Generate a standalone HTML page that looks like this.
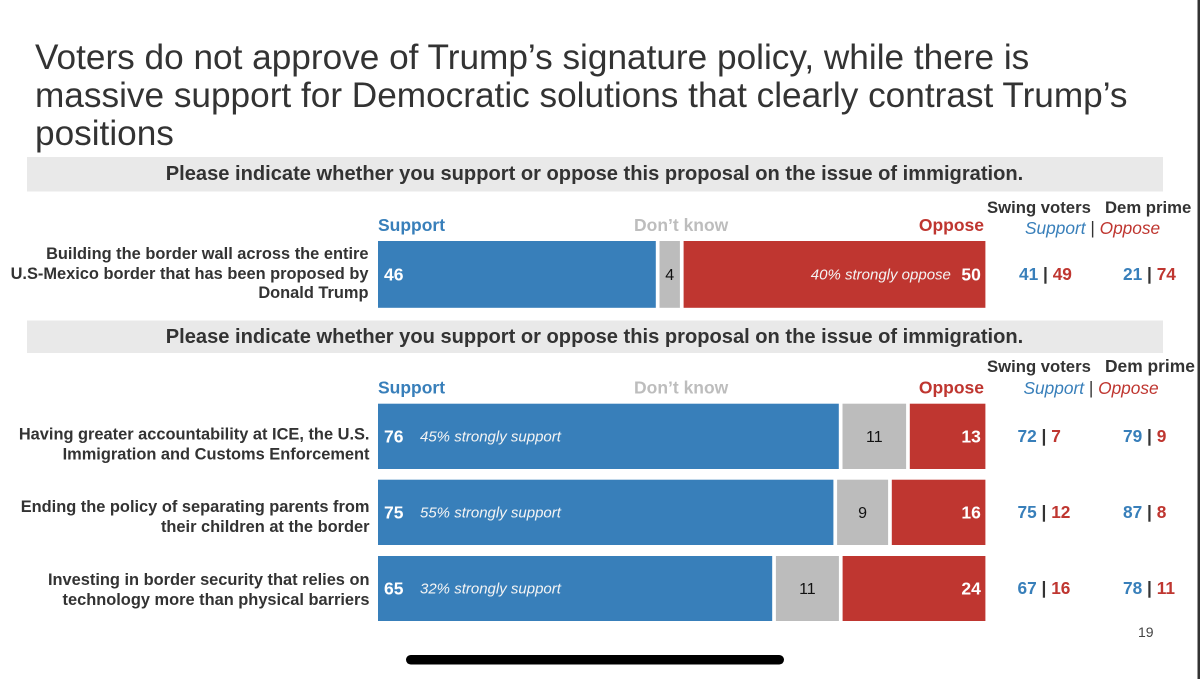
<!DOCTYPE html>
<html lang="en">
<head>
<meta charset="utf-8">
<title>Voters and immigration policy</title>
<style>
html,body{margin:0;padding:0;background:#fff;width:1200px;height:679px;overflow:hidden}
svg{display:block;font-family:"Liberation Sans",Arial,sans-serif}
.title{font-size:35.2px;fill:#333}
.q{font-size:20.1px;font-weight:700;fill:#333;text-anchor:middle}
.rl{font-size:16.4px;font-weight:700;fill:#333;text-anchor:end}
.hd{font-weight:700;font-size:17.5px}
.col{font-weight:700;font-size:16.7px;fill:#333}
.sub{font-style:italic;font-size:17.3px}
.blue{fill:#387fba}.red{fill:#bf3630}.grey{fill:#bdbdbd}.dark{fill:#333}
</style>
</head>
<body>
<svg id="chart" xmlns="http://www.w3.org/2000/svg" width="1200" height="679" viewBox="0 0 1200 679">
  <rect x="0" y="0" width="1200" height="679" fill="#ffffff"/>
  <g>
    <text class="title" x="35" y="69">Voters do not approve of Trump’s signature policy, while there is</text>
    <text class="title" x="35" y="107">massive support for Democratic solutions that clearly contrast Trump’s</text>
    <text class="title" x="35" y="145">positions</text>
  </g>
  <rect x="27" y="157" width="1136" height="34.5" fill="#e9e9e9"/>
  <text class="q" x="594.5" y="180">Please indicate whether you support or oppose this proposal on the issue of immigration.</text>
  <rect x="27" y="320.5" width="1136" height="32.5" fill="#e9e9e9"/>
  <text class="q" x="594.5" y="343">Please indicate whether you support or oppose this proposal on the issue of immigration.</text>

  <text class="hd blue" x="378" y="231">Support</text>
  <text class="hd grey" x="634" y="231">Don’t know</text>
  <text class="hd red" x="984" y="231" text-anchor="end">Oppose</text>
  <text class="hd blue" x="378" y="393.500">Support</text>
  <text class="hd grey" x="634" y="393.500">Don’t know</text>
  <text class="hd red" x="984" y="393.500" text-anchor="end">Oppose</text>

  <text class="col" x="987" y="213">Swing voters</text>
  <text class="col" x="1105" y="213">Dem prime</text>
  <text class="sub" x="1025" y="234"><tspan class="blue">Support</tspan><tspan class="dark" font-style="normal"> | </tspan><tspan class="red">Oppose</tspan></text>
  <text class="col" x="987" y="372">Swing voters</text>
  <text class="col" x="1105" y="372" style="font-size:17.4px">Dem prime</text>
  <text class="sub" x="1023.500" y="394"><tspan class="blue">Support</tspan><tspan class="dark" font-style="normal"> | </tspan><tspan class="red">Oppose</tspan></text>

  <g>
    <text class="rl" x="368.500" y="259">Building the border wall across the entire</text>
    <text class="rl" x="368.500" y="279">U.S-Mexico border that has been proposed by</text>
    <text class="rl" x="368.500" y="298">Donald Trump</text>
  </g>
  <g>
    <text class="rl" x="369.500" y="439.500">Having greater accountability at ICE, the U.S.</text>
    <text class="rl" x="369.500" y="459.500">Immigration and Customs Enforcement</text>
  </g>
  <g>
    <text class="rl" x="369.500" y="512">Ending the policy of separating parents from</text>
    <text class="rl" x="369.500" y="532">their children at the border</text>
  </g>
  <g>
    <text class="rl" x="369.500" y="585">Investing in border security that relies on</text>
    <text class="rl" x="369.500" y="605">technology more than physical barriers</text>
  </g>

  <g id="bars"></g>
  <g id="side"></g>

  <text x="1138" y="637" font-size="14" fill="#444">19</text>
  <rect x="406" y="655" width="378" height="9.500" rx="4.750" fill="#000"/>
  <rect x="1197.500" y="0" width="2.500" height="679" fill="#333"/>
</svg>
<script>
// Bar lengths, in percent of the full bar.
const rowNames = ['border-wall', 'ice-accountability', 'family-separation', 'border-technology'];
const supportValues = [46.3, 76.8, 75.9, 65.7];
const dontKnowValues = [3.4, 10.6, 8.5, 10.5];
const opposeValues = [50.3, 12.6, 15.6, 23.8];
// Values as printed on the slide.
const supportLabels = ['46', '76', '75', '65'];
const dontKnowLabels = ['4', '11', '9', '11'];
const opposeLabels = ['50', '13', '16', '24'];
const strongNotes = ['', '45% strongly support', '55% strongly support', '32% strongly support'];
const opposeNotes = ['40% strongly oppose', '', '', ''];
const swingSupport = ['41', '72', '75', '67'];
const swingOppose = ['49', '7', '12', '16'];
const demSupport = ['21', '79', '87', '78'];
const demOppose = ['74', '9', '8', '11'];

const NS = 'http://www.w3.org/2000/svg';
const BAR_LEFT = 378, PX_PER_POINT = 6, GAP = 3.7;
const ROW_TOPS = [241, 403.7, 479.7, 556];
const ROW_HEIGHTS = [66.8, 65.3, 65.3, 65];
const COLORS = {support: '#387fba', dk: '#bcbcbc', oppose: '#bf3630'};
const barsG = document.getElementById('bars');
const sideG = document.getElementById('side');

function widthOf(v) { return v * PX_PER_POINT; }

function addText(parent, x, y, str, size, weight, fill, anchor, italic) {
  const t = document.createElementNS(NS, 'text');
  t.setAttribute('x', x);
  t.setAttribute('y', y);
  t.setAttribute('font-size', size);
  t.setAttribute('font-weight', weight);
  t.setAttribute('fill', fill);
  t.setAttribute('text-anchor', anchor);
  if (italic) t.setAttribute('font-style', 'italic');
  t.textContent = str;
  parent.appendChild(t);
  return t;
}

function addBar(x, y, w, h, fill) {
  const r = document.createElementNS(NS, 'rect');
  r.setAttribute('x', x);
  r.setAttribute('y', y);
  r.setAttribute('width', w);
  r.setAttribute('height', h);
  r.setAttribute('fill', fill);
  barsG.appendChild(r);
  return r;
}

rowNames.forEach(function (name, i) {
  const top = ROW_TOPS[i], h = ROW_HEIGHTS[i], base = top + h / 2 + 6;
  const sw = widthOf(supportValues[i]);
  const dw = widthOf(dontKnowValues[i]);
  const ow = widthOf(opposeValues[i]);
  const dx = BAR_LEFT + sw + GAP;
  const ox = dx + dw + GAP;
  const oEnd = ox + ow;

  const s = addBar(BAR_LEFT, top, sw, h, COLORS.support);
  
  
  const d = addBar(dx, top, dw, h, COLORS.dk);
  
  
  const o = addBar(ox, top, ow, h, COLORS.oppose);
  
  

  const sl = addText(barsG, BAR_LEFT + 6, base, supportLabels[i], 17.5, 700, '#fff', 'start');
  
  
  const dl = addText(barsG, dx + dw / 2, base - 0.5, dontKnowLabels[i], 16, 400, '#111', 'middle');
  
  
  const ol = addText(barsG, oEnd - 4.5, base, opposeLabels[i], 17.5, 700, '#fff', 'end');
  
  

  if (strongNotes[i]) {
    const n = addText(barsG, BAR_LEFT + 42, base - 1, strongNotes[i], 15, 400, '#f4f4f4', 'start', true);
    
    
  }
  if (opposeNotes[i]) {
    const n2 = addText(barsG, oEnd - 34.5, base - 1, opposeNotes[i], 15, 400, '#f4f4f4', 'end', true);
    
    
  }

  const swing = document.createElementNS(NS, 'text');
  
  
  swing.setAttribute('x', i === 0 ? 1019 : 1017.5);
  swing.setAttribute('y', base - 0.5);
  swing.setAttribute('font-size', 17.3);
  swing.setAttribute('font-weight', 700);
  swing.innerHTML = '<tspan fill="#387fba">' + swingSupport[i] + '</tspan><tspan fill="#333"> | </tspan><tspan fill="#bf3630">' + swingOppose[i] + '</tspan>';
  sideG.appendChild(swing);

  const dem = document.createElementNS(NS, 'text');
  
  
  dem.setAttribute('x', 1123);
  dem.setAttribute('y', base - 0.5);
  dem.setAttribute('font-size', 17.3);
  dem.setAttribute('font-weight', 700);
  dem.innerHTML = '<tspan fill="#387fba">' + demSupport[i] + '</tspan><tspan fill="#333"> | </tspan><tspan fill="#bf3630">' + demOppose[i] + '</tspan>';
  sideG.appendChild(dem);
});
</script>
</body>
</html>
